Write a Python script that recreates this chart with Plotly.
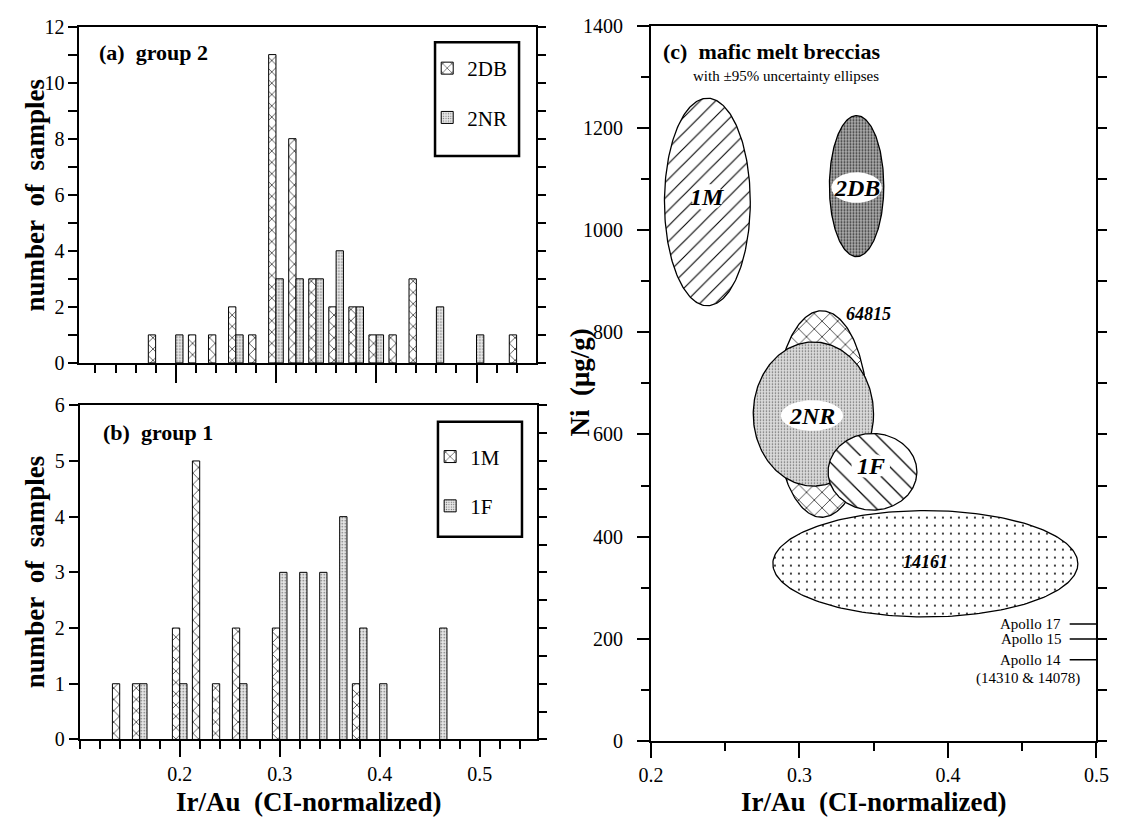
import numpy as np
import plotly.graph_objects as go

W, H = 1127, 829
FONT = "Liberation Serif"

# ---------------- data ----------------
# (a) group 2 histogram (bin positions in Ir/Au, counts)
g2_2DB_x = [0.18, 0.22, 0.24, 0.26, 0.28, 0.30, 0.32, 0.34, 0.36, 0.38, 0.40, 0.42, 0.44, 0.54]
g2_2DB_n = [1, 1, 1, 2, 1, 11, 8, 3, 2, 2, 1, 1, 3, 1]
g2_2NR_x = [0.20, 0.26, 0.30, 0.32, 0.34, 0.36, 0.38, 0.40, 0.46, 0.50]
g2_2NR_n = [1, 1, 3, 3, 3, 4, 2, 1, 2, 1]

# (b) group 1 histogram
g1_1M_x = [0.14, 0.16, 0.20, 0.22, 0.24, 0.26, 0.30, 0.38]
g1_1M_n = [1, 1, 2, 5, 1, 2, 2, 1]
g1_1F_x = [0.16, 0.20, 0.26, 0.30, 0.32, 0.34, 0.36, 0.38, 0.40, 0.46]
g1_1F_n = [1, 1, 1, 3, 3, 3, 4, 2, 1, 2]

# (c) 95% uncertainty ellipses: centre and semi-axes
ell_names = ["1M", "2DB", "14161", "64815", "2NR", "1F"]
ell_cx = [0.238, 0.3385, 0.3848, 0.315, 0.3094, 0.3492]
ell_cy = [1055, 1086, 347, 640, 640, 527]
ell_ax = [0.0289, 0.0183, 0.1027, 0.031, 0.0405, 0.0299]
ell_ay = [203, 138, 104, 202, 141, 75]

# labels inside ellipses
lab_text = ["1M", "2DB", "14161", "64815", "2NR", "1F"]
lab_x = [0.238, 0.3385, 0.3848, 0.3465, 0.3084, 0.348]
lab_y = [1064, 1083, 350, 835, 637, 538]

# Apollo reference levels
apollo_names = ["Apollo 17", "Apollo 15", "Apollo 14"]
apollo_ni = [229, 200, 159]

x_ticks = [0.2, 0.3, 0.4, 0.5]

# ---------------- styling ----------------
BW = 0.0073
hatch_x = dict(shape="x", size=8, solidity=0.15, fgcolor="black", bgcolor="white", fillmode="replace")
stipple = dict(shape=".", size=3, solidity=0.2, fgcolor="#666666", bgcolor="#e6e6e6", fillmode="replace")
bar_line = dict(color="black", width=1)

ell_style = {
    "1M": dict(fillcolor="white", fillpattern=dict(shape="/", size=11, solidity=0.1, fgcolor="black", bgcolor="white", fillmode="replace")),
    "2DB": dict(fillcolor="#8a8a8a", fillpattern=dict(shape=".", size=3, solidity=0.35, fgcolor="#303030", bgcolor="#b0b0b0", fillmode="replace")),
    "14161": dict(fillcolor="white", fillpattern=dict(shape=".", size=8, solidity=0.05, fgcolor="black", bgcolor="white", fillmode="replace")),
    "64815": dict(fillcolor="white", fillpattern=dict(shape="x", size=11, solidity=0.12, fgcolor="black", bgcolor="white", fillmode="replace")),
    "2NR": dict(fillcolor="#d4d4d4", fillpattern=dict(shape=".", size=3, solidity=0.2, fgcolor="#606060", bgcolor="#dadada", fillmode="replace")),
    "1F": dict(fillcolor="white", fillpattern=dict(shape="\\", size=13, solidity=0.1, fgcolor="black", bgcolor="white", fillmode="replace")),
}
halo = {"1M": (0.011, 26), "2DB": (0.017, 30), "2NR": (0.021, 30), "1F": (0.013, 24)}
lab_size = {"1M": 24, "2DB": 24, "2NR": 24, "1F": 24, "14161": 18, "64815": 18}

fig = go.Figure()

# ---------------- bars ----------------
fig.add_bar(x=g2_2DB_x, y=g2_2DB_n, width=BW, offset=-BW, name="2DB",
            marker=dict(color="white", line=bar_line, pattern=hatch_x),
            xaxis="x", yaxis="y", legend="legend", legendgroup="a1")
fig.add_bar(x=g2_2NR_x, y=g2_2NR_n, width=BW, offset=0, name="2NR",
            marker=dict(color="#e6e6e6", line=bar_line, pattern=stipple),
            xaxis="x", yaxis="y", legend="legend", legendgroup="a2")
fig.add_bar(x=g1_1M_x, y=g1_1M_n, width=BW, offset=-BW, name="1M",
            marker=dict(color="white", line=bar_line, pattern=hatch_x),
            xaxis="x2", yaxis="y2", legend="legend2", legendgroup="b1")
fig.add_bar(x=g1_1F_x, y=g1_1F_n, width=BW, offset=0, name="1F",
            marker=dict(color="#e6e6e6", line=bar_line, pattern=stipple),
            xaxis="x2", yaxis="y2", legend="legend2", legendgroup="b2")

# dummy traces so the right-hand tick axes exist
fig.add_scatter(x=[None], y=[None], xaxis="x", yaxis="y4", showlegend=False, hoverinfo="skip")
fig.add_scatter(x=[None], y=[None], xaxis="x2", yaxis="y5", showlegend=False, hoverinfo="skip")
fig.add_scatter(x=[None], y=[None], xaxis="x3", yaxis="y6", showlegend=False, hoverinfo="skip")

# ---------------- ellipses ----------------
t = np.linspace(0, 2 * np.pi, 240)
for name, cx, cy, ax_, ay_ in zip(ell_names, ell_cx, ell_cy, ell_ax, ell_ay):
    st = ell_style[name]
    fig.add_scatter(x=cx + ax_ * np.cos(t), y=cy + ay_ * np.sin(t), mode="lines",
                    fill="toself", fillcolor=st["fillcolor"], fillpattern=st["fillpattern"],
                    line=dict(color="black", width=1.3), xaxis="x3", yaxis="y3",
                    showlegend=False, hoverinfo="skip")

# white halos behind labels
for name, lx, ly in zip(lab_text, lab_x, lab_y):
    if name in halo:
        hx, hy = halo[name]
        fig.add_scatter(x=lx + hx * np.cos(t), y=ly + hy * np.sin(t), mode="lines",
                        fill="toself", fillcolor="white", line=dict(width=0, color="white"),
                        xaxis="x3", yaxis="y3", showlegend=False, hoverinfo="skip")

# Apollo reference ticks
for nm, ni in zip(apollo_names, apollo_ni):
    fig.add_scatter(x=[0.482, 0.5], y=[ni, ni], mode="lines", line=dict(color="black", width=1.5),
                    xaxis="x3", yaxis="y3", showlegend=False, hoverinfo="skip")

# ---------------- axes ----------------
tickfont = dict(family=FONT, size=20, color="black")
common_line = dict(showline=True, linewidth=2, linecolor="black", mirror=True,
                   showgrid=False, zeroline=False, tickcolor="black", tickwidth=2)

def xax(domain, rng, anchor, labels, minor_dtick, ticklen, minor_len):
    return dict(domain=domain, range=rng, anchor=anchor, tickmode="array", tickvals=x_ticks,
                ticks="outside", ticklen=ticklen, showticklabels=labels, tickfont=tickfont,
                minor=dict(tickmode="linear", tick0=0, dtick=minor_dtick, ticks="outside",
                           ticklen=minor_len, tickwidth=2, tickcolor="black", showgrid=False),
                **common_line)

def yax(domain, rng, anchor, dtick, minor_dtick, ticklen, minor_len, standoff=0):
    return dict(domain=domain, range=rng, anchor=anchor, tick0=0, dtick=dtick,
                ticks="outside", ticklen=ticklen, tickfont=tickfont, ticklabelstandoff=standoff,
                minor=dict(tick0=0, dtick=minor_dtick, ticks="outside", ticklen=minor_len,
                           tickwidth=2, tickcolor="black", showgrid=False),
                **common_line)

def yright(over, anchor, rng, dtick, ticklen):
    return dict(overlaying=over, anchor=anchor, side="right", range=rng, tick0=0, dtick=dtick,
                ticks="outside", ticklen=ticklen, tickwidth=2, tickcolor="black",
                showticklabels=False, showline=False, showgrid=False, zeroline=False)

fig.update_layout(
    xaxis=xax([68 / W, 535 / W], [0.104, 0.559], "y", False, 0.02, 18, 8),
    yaxis=yax([1 - 361.5 / H, 1 - 16 / H], [0, 12], "x", 2, 1, 9, 9),
    yaxis4=yright("y", "x", [0, 12], 1, 9),
    xaxis2=xax([68.3 / W, 536 / W], [0.10, 0.557], "y2", True, 0.02, 16, 8),
    yaxis2=yax([1 - 748.3 / H, 1 - 405 / H], [0, 6], "x2", 1, 1, 9, 9),
    yaxis5=yright("y2", "x2", [0, 6], 0.5, 9),
    xaxis3=xax([653 / W, 1109 / W], [0.2, 0.5], "y3", True, 0.05, 15, 8),
    yaxis3=yax([1 - 750 / H, 1 - 15 / H], [0, 1400], "x3", 200, 100, 12, 8, standoff=10),
    yaxis6=yright("y3", "x3", [0, 1400], 100, 10),
)

# ---------------- legends ----------------
legfont = dict(family=FONT, size=21, color="black")
fig.update_layout(
    legend=dict(x=424 / W, y=1 - 38 / H, xanchor="left", yanchor="top", font=legfont,
                bgcolor="rgba(0,0,0,0)", borderwidth=0, tracegroupgap=19, itemwidth=30),
    legend2=dict(x=427 / W, y=1 - 437 / H, xanchor="left", yanchor="top", font=legfont,
                 bgcolor="rgba(0,0,0,0)", borderwidth=0, tracegroupgap=19, itemwidth=30),
)
boxes = [(432, 32, 518, 149), (435, 422, 521, 540)]
for x0, y0, x1, y1 in boxes:
    fig.add_shape(type="rect", xref="paper", yref="paper", x0=x0 / W, x1=x1 / W,
                  y0=1 - y1 / H, y1=1 - y0 / H, line=dict(color="black", width=2.5))

# ---------------- text ----------------
def ann(text, x, y, size, bold=False, italic=False, angle=0, xanchor="center", xref="paper", yref="paper"):
    style = "italic" if italic else "normal"
    fig.add_annotation(text=text, x=x, y=y, xref=xref, yref=yref, showarrow=False,
                       textangle=angle, xanchor=xanchor, yanchor="middle",
                       font=dict(family=FONT, size=size, color="black",
                                 weight="bold" if bold else "normal", style=style))

nb = "\u00a0"
ann("(a)" + nb * 2 + "group 2", 86 / W, 1 - 43 / H, 22, bold=True, xanchor="left")
ann("(b)" + nb * 2 + "group 1", 90 / W, 1 - 433 / H, 22, bold=True, xanchor="left")
ann("(c)" + nb * 2 + "mafic melt breccias", 663 / W, 1 - 42 / H, 22, bold=True, xanchor="left")
ann("with ±95% uncertainty ellipses", 694 / W, 1 - 67 / H, 15, xanchor="left")

ann("number" + nb * 2 + "of" + nb * 2 + "samples", 22 / W, 1 - 189 / H, 27, bold=True, angle=-90)
ann("number" + nb * 2 + "of" + nb * 2 + "samples", 22 / W, 1 - 576 / H, 27, bold=True, angle=-90)
ann("Ir/Au" + nb * 2 + "(CI-normalized)", 302 / W, 1 - 813 / H, 27, bold=True)
ann("Ir/Au" + nb * 2 + "(CI-normalized)", 881 / W, 1 - 813 / H, 27, bold=True)
ann("Ni" + nb * 2 + "(μg/g)", 580 / W, 1 - 382 / H, 27, bold=True, angle=-90)

for name, lx, ly in zip(lab_text, lab_x, lab_y):
    ann(name, lx, ly, lab_size[name], bold=True, italic=True, xref="x3", yref="y3")

for nm, ni in zip(apollo_names, apollo_ni):
    ann(nm, 0.4775, ni, 15, xanchor="right", xref="x3", yref="y3")
ann("(14310 & 14078)", 0.49, 122, 15, xanchor="right", xref="x3", yref="y3")

fig.update_layout(
    width=W, height=H, margin=dict(l=0, r=0, t=0, b=0),
    paper_bgcolor="white", plot_bgcolor="white", barmode="overlay",
    font=dict(family=FONT, color="black"), showlegend=True,
)

fig.write_html("out.html")
